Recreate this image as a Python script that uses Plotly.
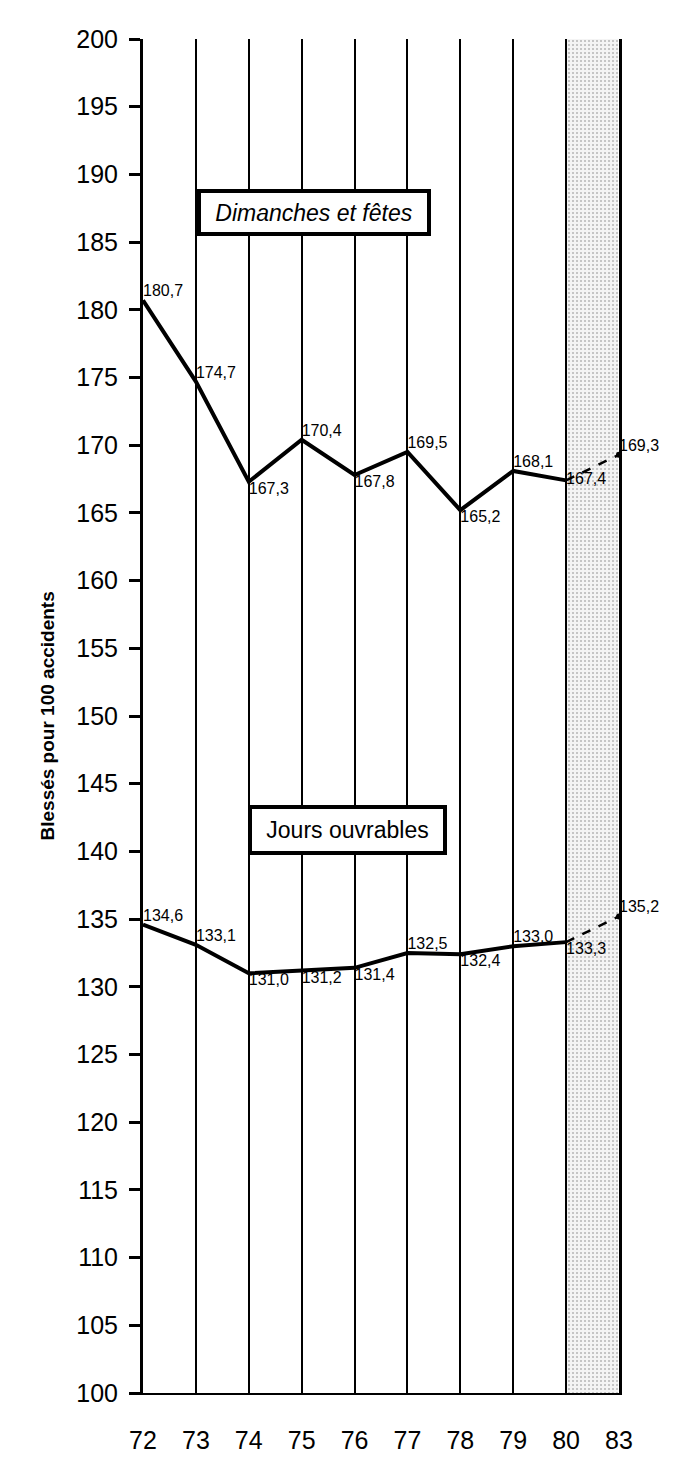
import plotly.graph_objects as go

# Data
years = ["72", "73", "74", "75", "76", "77", "78", "79", "80", "83"]
dimanches = [180.7, 174.7, 167.3, 170.4, 167.8, 169.5, 165.2, 168.1, 167.4, 169.3]
jours = [134.6, 133.1, 131.0, 131.2, 131.4, 132.5, 132.4, 133.0, 133.3, 135.2]
dimanches_labels = ["180,7", "174,7", "167,3", "170,4", "167,8", "169,5", "165,2", "168,1", "167,4", "169,3"]
jours_labels = ["134,6", "133,1", "131,0", "131,2", "131,4", "132,5", "132,4", "133.0", "133,3", "135,2"]
y_ticks = list(range(100, 201, 5))

FONT = "Liberation Sans, Arial, sans-serif"
pos = list(range(len(years)))
last_obs = years.index("80")  # after this point the values are forecast (dashed)

dim_textpos = ["top right", "top right", "bottom right", "top right", "bottom right",
               "top right", "bottom right", "top right", "middle right", "top right"]
jou_textpos = ["top right", "top right", "bottom right", "bottom right", "bottom right",
               "top right", "bottom right", "top right", "bottom right", "top right"]

fig = go.Figure()

# stippled forecast band between 80 and 83
fig.add_trace(go.Bar(
    x=[(pos[last_obs] + pos[-1]) / 2], y=[y_ticks[-1] - y_ticks[0]], base=[y_ticks[0]],
    width=[0.95], marker=dict(color="#eeeeee", line=dict(width=0),
                              pattern=dict(shape=".", size=4, solidity=0.22,
                                           fgcolor="#808080", bgcolor="#f4f4f4")),
    hoverinfo="skip", showlegend=False,
))

for vals, labels, tpos in [(dimanches, dimanches_labels, dim_textpos),
                           (jours, jours_labels, jou_textpos)]:
    # observed part
    fig.add_trace(go.Scatter(
        x=pos[:last_obs + 1], y=vals[:last_obs + 1], mode="lines",
        line=dict(color="black", width=4), showlegend=False, hoverinfo="skip",
    ))
    # forecast part
    fig.add_trace(go.Scatter(
        x=pos[last_obs:], y=vals[last_obs:], mode="lines",
        line=dict(color="black", width=2.5, dash="dash"), showlegend=False, hoverinfo="skip",
    ))
    fig.add_trace(go.Scatter(
        x=pos[-1:], y=vals[-1:], mode="markers",
        marker=dict(color="black", size=6), showlegend=False, hoverinfo="skip",
    ))
    # value labels
    fig.add_trace(go.Scatter(
        x=pos, y=vals, mode="text", text=labels, textposition=tpos,
        textfont=dict(family=FONT, size=16, color="black"),
        cliponaxis=False, showlegend=False, hoverinfo="skip",
    ))

# boxed series titles
fig.add_annotation(x=3.23, y=187.2, xref="x", yref="y", showarrow=False,
                   text="<i>Dimanches et fêtes</i>", width=226, height=39,
                   font=dict(family=FONT, size=23, color="black"),
                   bgcolor="white", bordercolor="black", borderwidth=4, borderpad=0)
fig.add_annotation(x=3.87, y=141.6, xref="x", yref="y", showarrow=False,
                   text="Jours ouvrables", width=191, height=42,
                   font=dict(family=FONT, size=23, color="black"),
                   bgcolor="white", bordercolor="black", borderwidth=4, borderpad=0)

# y axis title
fig.add_annotation(x=-109 / 476, y=0.5, xref="paper", yref="paper", showarrow=False,
                   text="<b>Blessés pour 100 accidents</b>", textangle=-90,
                   font=dict(family=FONT, size=19, color="black"))

fig.update_layout(
    width=673, height=1458,
    margin=dict(l=135, r=62, t=31, b=51),
    plot_bgcolor="white", paper_bgcolor="white",
    bargap=0,
    xaxis=dict(
        range=[0, len(years) - 1], tickvals=pos, ticktext=years,
        showgrid=True, gridcolor="black", gridwidth=2, zeroline=False,
        showline=True, linecolor="black", linewidth=2,
        ticks="", ticklabelstandoff=24,
        tickfont=dict(family=FONT, size=25, color="black"),
    ),
    yaxis=dict(
        range=[y_ticks[0], y_ticks[-1]], tickvals=y_ticks,
        showgrid=False, zeroline=False, mirror=True,
        showline=True, linecolor="black", linewidth=3,
        ticks="outside", ticklen=11, tickwidth=3, tickcolor="black",
        ticklabelstandoff=6,
        tickfont=dict(family=FONT, size=25, color="black"),
    ),
)

fig.write_html("out.html")
